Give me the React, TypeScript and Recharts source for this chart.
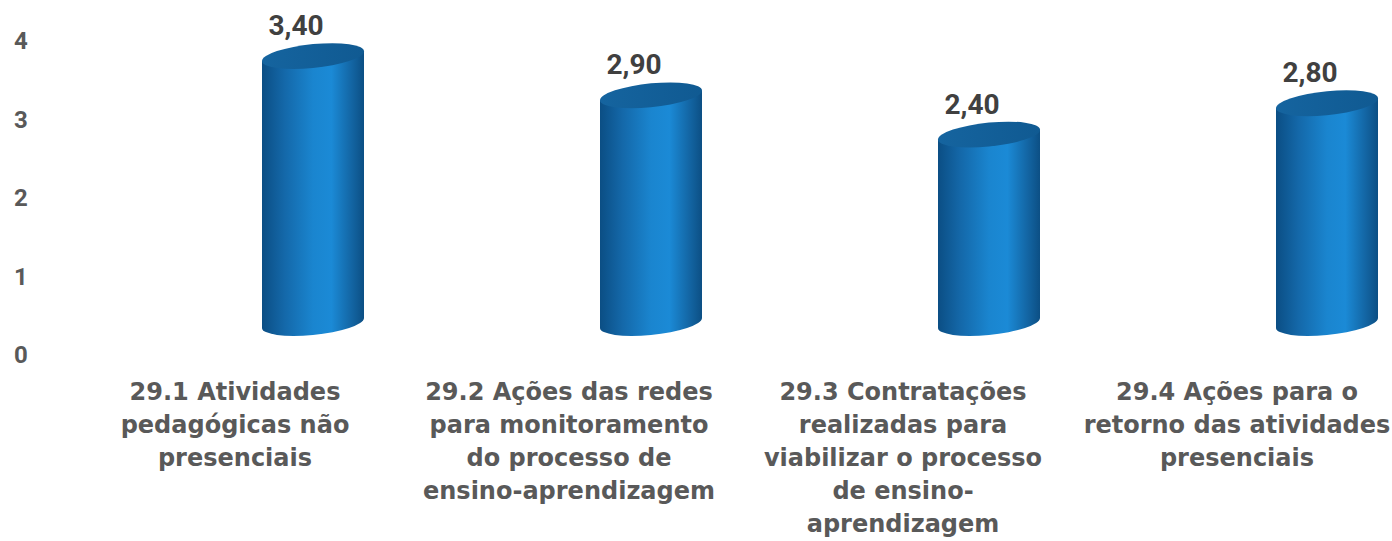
import { Bar, ComposedChart, Line, XAxis, YAxis, LabelList } from "recharts"

// Médias por item (gráfico de cilindros)
const categories = ["29.1", "29.2", "29.3", "29.4"]
const values = [3.4, 2.9, 2.4, 2.8]
const tickLines = [
  ["29.1 Atividades", "pedagógicas não", "presenciais"],
  ["29.2 Ações das redes", "para monitoramento", "do processo de", "ensino-aprendizagem"],
  ["29.3 Contratações", "realizadas para", "viabilizar o processo", "de ensino-", "aprendizagem"],
  ["29.4 Ações para o", "retorno das atividades", "presenciais"],
]
const yTicks = [0, 1, 2, 3, 4]

const data = categories.map((c, i) => ({ name: c, value: values[i], lines: tickLines[i] }))

const Cylinder = (props: any) => {
  const { x, y, width, height } = props
  if (width == null || height == null) return null
  const cx = x + width / 2
  const rx = width / 2
  const ry = 12
  const bottom = y + height
  const tf = `translate(${cx},0) skewY(-5.5) translate(${-cx},0)`
  return (
    <g transform={tf}>
      <path
        d={`M${x},${y} L${x},${bottom} A${rx},${ry} 0 0 0 ${x + width},${bottom} L${x + width},${y} Z`}
        fill="url(#cylBody)"
      />
      <ellipse cx={cx} cy={y} rx={rx} ry={ry} fill="url(#cylTop)" />
    </g>
  )
}

const CategoryTick = (props: any) => {
  const { x, y, payload } = props
  const lines: string[] = tickLines[payload.index] || []
  return (
    <text
      x={x}
      y={y}
      textAnchor="middle"
      fill="#595959"
      fontFamily="'DejaVu Sans', sans-serif"
      fontWeight="bold"
      fontSize={24}
    >
      {lines.map((l, i) => (
        <tspan key={i} x={x - 3} y={y + 8 + i * 33}>
          {l}
        </tspan>
      ))}
    </text>
  )
}

const ValueTick = (props: any) => {
  const { y, payload } = props
  return (
    <text
      x={21}
      y={y + 9}
      textAnchor="middle"
      fill="#595959"
      fontFamily="Roboto, sans-serif"
      fontWeight="bold"
      fontSize={24}
    >
      {payload.value}
    </text>
  )
}

const renderValue = (props: any) => {
  const { x, y, width, value } = props
  return (
    <text
      x={x + width / 2 - 17}
      y={y - 21}
      textAnchor="middle"
      fill="#404040"
      fontFamily="Roboto, sans-serif"
      fontWeight="bold"
      fontSize={28}
    >
      {Number(value).toFixed(2).replace(".", ",")}
    </text>
  )
}

export default function App() {
  return (
    <div style={{ width: 1392, height: 541, background: "#fff", overflow: "hidden" }}>
      <style>{`body{margin:0}`}</style>
      <ComposedChart
        width={1392}
        height={541}
        data={data}
        margin={{ top: 40, right: 0, bottom: 0, left: 0 }}
        barSize={102}
      >
        <defs>
          <linearGradient id="cylBody" x1="0" y1="0" x2="1" y2="0">
            <stop offset="0%" stopColor="#0b4e84" />
            <stop offset="22%" stopColor="#1468a9" />
            <stop offset="50%" stopColor="#1a85cf" />
            <stop offset="68%" stopColor="#1b8ad6" />
            <stop offset="88%" stopColor="#1365a3" />
            <stop offset="100%" stopColor="#0c4f84" />
          </linearGradient>
          <linearGradient id="cylTop" x1="0" y1="0" x2="1" y2="0">
            <stop offset="0%" stopColor="#15649f" />
            <stop offset="100%" stopColor="#105a92" />
          </linearGradient>
        </defs>
        <XAxis
          xAxisId="labels"
          dataKey="name"
          height={187}
          axisLine={false}
          tickLine={false}
          interval={0}
          padding={{ left: 1, right: -15 }}
          tick={<CategoryTick />}
        />
        <XAxis xAxisId="bars" dataKey="name" hide padding={{ left: 74, right: -104 }} />
        <YAxis
          yAxisId="left"
          width={70}
          type="number"
          domain={[0, 4]}
          ticks={yTicks}
          axisLine={false}
          tickLine={false}
          tick={<ValueTick />}
        />
        <YAxis yAxisId="bars" hide type="number" domain={[-0.395, 3.605]} allowDataOverflow />
        <Line
          dataKey="value"
          xAxisId="labels"
          yAxisId="left"
          stroke="none"
          dot={false}
          activeDot={false}
          legendType="none"
          isAnimationActive={false}
        />
        <Bar
          dataKey="value"
          xAxisId="bars"
          yAxisId="bars"
          shape={<Cylinder />}
          isAnimationActive={false}
        >
          <LabelList dataKey="value" content={renderValue} />
        </Bar>
      </ComposedChart>
    </div>
  )
}
